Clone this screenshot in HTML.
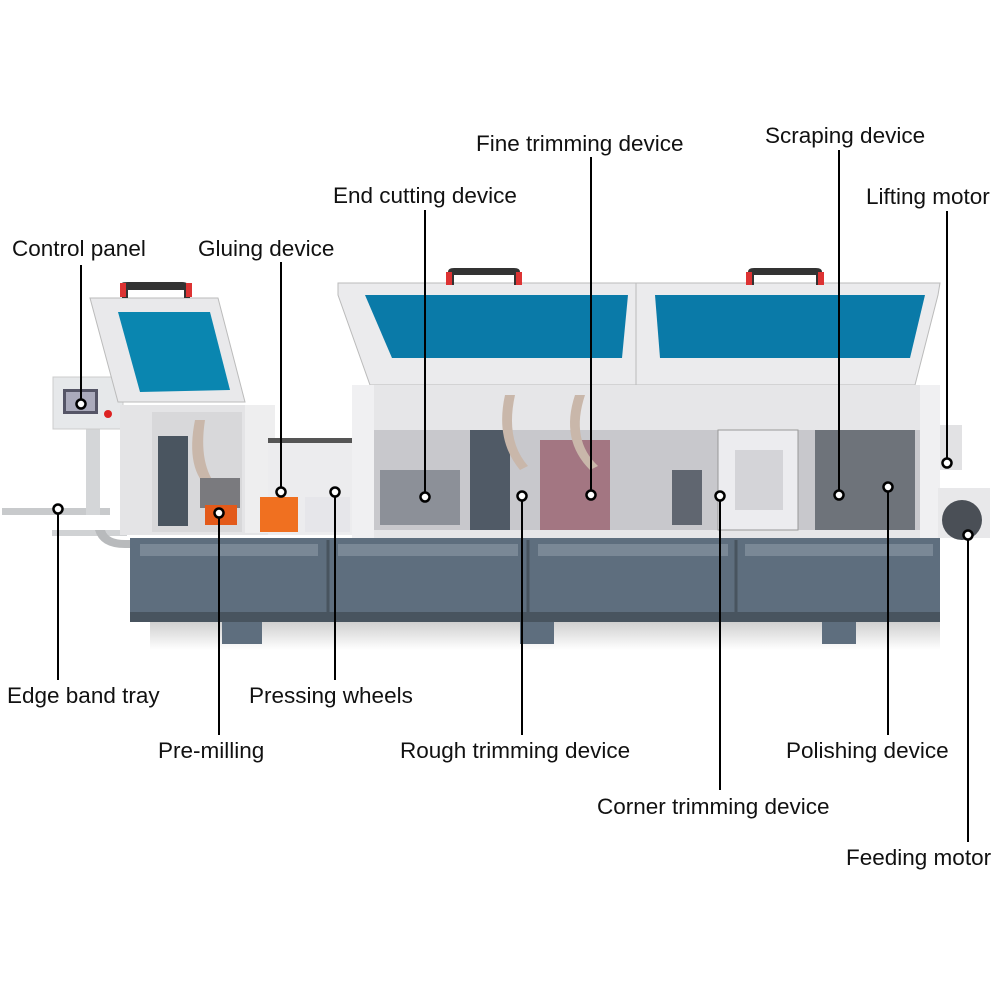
<!DOCTYPE html>
<html><head><style>
body{margin:0;background:#fff}
.w{position:relative;width:1000px;height:1000px;overflow:hidden;background:#fff}
svg{position:absolute;left:0;top:0}
.t{font-family:"Liberation Sans",sans-serif;font-size:22.5px;fill:#111}
</style></head><body><div class="w">
<svg width="1000" height="1000" viewBox="0 0 1000 1000">
<defs>
<linearGradient id="sh" x1="0" y1="0" x2="0" y2="1"><stop offset="0" stop-color="#ccc"/><stop offset="1" stop-color="#fff"/></linearGradient>
</defs>
<rect x="150" y="620" width="790" height="30" fill="url(#sh)"/>
<rect x="2" y="508" width="108" height="7" fill="#c8cacc"/>
<rect x="52" y="530" width="75" height="6" fill="#d0d2d4"/>
<path d="M95 530 Q100 548 125 548 L130 548 L130 540 L125 540 Q108 540 105 530Z" fill="#b8babc"/>
<rect x="86" y="425" width="14" height="90" fill="#d4d6d8"/>
<rect x="53" y="377" width="70" height="52" fill="#e6e8ea" stroke="#ccc"/>
<rect x="63" y="389" width="35" height="25" fill="#556" /><rect x="66" y="392" width="29" height="19" fill="#aab"/>
<circle cx="108" cy="414" r="4" fill="#d22"/>
<path d="M90 298 L218 298 L245 402 L118 402Z" fill="#e9e9eb" stroke="#bbb"/>
<path d="M118 312 L210 312 L230 390 L140 392Z" fill="#0a86b0"/>
<path d="M122 283 Q122 282 128 282 L182 282 Q190 282 190 290 L190 298 L184 298 L184 290 L128 290 L128 298 L122 298Z" fill="#333"/>
<rect x="120" y="283" width="6" height="14" fill="#d33"/><rect x="186" y="283" width="6" height="14" fill="#d33"/>
<rect x="120" y="405" width="155" height="130" fill="#e4e4e6"/>
<rect x="152" y="412" width="90" height="120" fill="#d8d8da"/>
<rect x="158" y="436" width="30" height="90" fill="#4a5560"/>
<path d="M195 420 Q185 470 210 490 L218 488 Q198 465 205 420Z" fill="#c9b7aa"/>
<rect x="200" y="478" width="40" height="30" fill="#7a7a7e"/>
<rect x="205" y="505" width="32" height="20" fill="#e35a1a"/>
<rect x="245" y="405" width="30" height="128" fill="#eeeeef"/>
<rect x="268" y="440" width="85" height="95" fill="#ececee"/>
<rect x="260" y="497" width="38" height="35" fill="#f07020"/>
<rect x="305" y="497" width="45" height="35" fill="#e6e6ea"/>
<rect x="268" y="438" width="85" height="5" fill="#555"/>
<path d="M338 283 L940 283 L938 295 L915 385 L370 385 L338 295Z" fill="#ebebed" stroke="#bbb"/>
<path d="M365 295 L628 295 L622 358 L392 358Z" fill="#0a7aa8"/>
<path d="M655 295 L925 295 L910 358 L660 358Z" fill="#0a7aa8"/>
<line x1="636" y1="283" x2="636" y2="385" stroke="#bbb"/>
<path d="M448 285 L448 272 Q448 268 454 268 L514 268 Q520 268 520 272 L520 285 L514 285 L514 275 L454 275 L454 285Z" fill="#333"/>
<path d="M748 285 L748 272 Q748 268 754 268 L816 268 Q822 268 822 272 L822 285 L816 285 L816 275 L754 275 L754 285Z" fill="#333"/>
<rect x="446" y="272" width="6" height="13" fill="#d33"/><rect x="516" y="272" width="6" height="13" fill="#d33"/>
<rect x="746" y="272" width="6" height="13" fill="#d33"/><rect x="818" y="272" width="6" height="13" fill="#d33"/>
<rect x="352" y="385" width="588" height="153" fill="#e6e6e8"/>
<rect x="352" y="385" width="22" height="153" fill="#f0f0f2"/>
<rect x="920" y="385" width="20" height="153" fill="#f0f0f2"/>
<rect x="374" y="430" width="546" height="100" fill="#c8c8cc"/>
<rect x="380" y="470" width="80" height="55" fill="#8c9098"/>
<rect x="470" y="430" width="40" height="100" fill="#505a66"/>
<rect x="540" y="440" width="70" height="90" fill="#8a4050" opacity=".6"/>
<path d="M505 395 Q495 440 520 470 L528 466 Q505 440 515 395Z" fill="#c9b7aa"/>
<path d="M575 395 Q560 440 590 470 L598 466 Q570 440 585 395Z" fill="#c9b7aa"/>
<rect x="718" y="430" width="80" height="100" fill="#ececef" stroke="#999"/>
<rect x="735" y="450" width="48" height="60" fill="#d4d4d8"/>
<rect x="815" y="430" width="100" height="100" fill="#6e737a"/>
<rect x="672" y="470" width="30" height="55" fill="#606670"/>
<rect x="940" y="425" width="22" height="45" fill="#e2e2e4"/>
<rect x="938" y="488" width="52" height="50" fill="#e8e8ea"/>
<circle cx="962" cy="520" r="20" fill="#4a4f56"/>
<rect x="130" y="538" width="810" height="82" fill="#5e6e7e"/>
<rect x="140" y="544" width="178" height="12" fill="#7a8896"/>
<rect x="338" y="544" width="180" height="12" fill="#7a8896"/>
<rect x="538" y="544" width="190" height="12" fill="#7a8896"/>
<rect x="745" y="544" width="188" height="12" fill="#7a8896"/>
<line x1="328" y1="540" x2="328" y2="615" stroke="#48545f" stroke-width="3"/>
<line x1="528" y1="540" x2="528" y2="615" stroke="#48545f" stroke-width="3"/>
<line x1="736" y1="540" x2="736" y2="615" stroke="#48545f" stroke-width="3"/>
<rect x="130" y="612" width="810" height="10" fill="#48545f"/>
<rect x="222" y="622" width="40" height="22" fill="#5e6e7e"/>
<rect x="520" y="622" width="34" height="22" fill="#5e6e7e"/>
<rect x="822" y="622" width="34" height="22" fill="#5e6e7e"/>
<g stroke="#000" stroke-width="2" fill="none">
<line x1="81" y1="265" x2="81" y2="404"/>
<line x1="281" y1="262" x2="281" y2="492"/>
<line x1="425" y1="210" x2="425" y2="497"/>
<line x1="591" y1="157" x2="591" y2="495"/>
<line x1="839" y1="150" x2="839" y2="495"/>
<line x1="947" y1="211" x2="947" y2="463"/>
<line x1="58" y1="509" x2="58" y2="680"/>
<line x1="219" y1="513" x2="219" y2="735"/>
<line x1="335" y1="492" x2="335" y2="680"/>
<line x1="522" y1="496" x2="522" y2="735"/>
<line x1="720" y1="496" x2="720" y2="790"/>
<line x1="888" y1="487" x2="888" y2="735"/>
<line x1="968" y1="535" x2="968" y2="842"/>
</g>
<g stroke="#000" stroke-width="2.5" fill="#fff">
<circle cx="81" cy="404" r="4.5"/><circle cx="281" cy="492" r="4.5"/><circle cx="425" cy="497" r="4.5"/>
<circle cx="591" cy="495" r="4.5"/><circle cx="839" cy="495" r="4.5"/><circle cx="947" cy="463" r="4.5"/>
<circle cx="58" cy="509" r="4.5"/><circle cx="219" cy="513" r="4.5"/><circle cx="335" cy="492" r="4.5"/>
<circle cx="522" cy="496" r="4.5"/><circle cx="720" cy="496" r="4.5"/><circle cx="888" cy="487" r="4.5"/>
<circle cx="968" cy="535" r="4.5"/>
</g>
<text class="t" x="12" y="256">Control panel</text>
<text class="t" x="198" y="256">Gluing device</text>
<text class="t" x="333" y="203">End cutting device</text>
<text class="t" x="476" y="151">Fine trimming device</text>
<text class="t" x="765" y="143">Scraping device</text>
<text class="t" x="866" y="204">Lifting motor</text>
<text class="t" x="7" y="703">Edge band tray</text>
<text class="t" x="158" y="758">Pre-milling</text>
<text class="t" x="249" y="703">Pressing wheels</text>
<text class="t" x="400" y="758">Rough trimming device</text>
<text class="t" x="597" y="814">Corner trimming device</text>
<text class="t" x="786" y="758">Polishing device</text>
<text class="t" x="846" y="865">Feeding motor</text>
</svg>
</div></body></html>
